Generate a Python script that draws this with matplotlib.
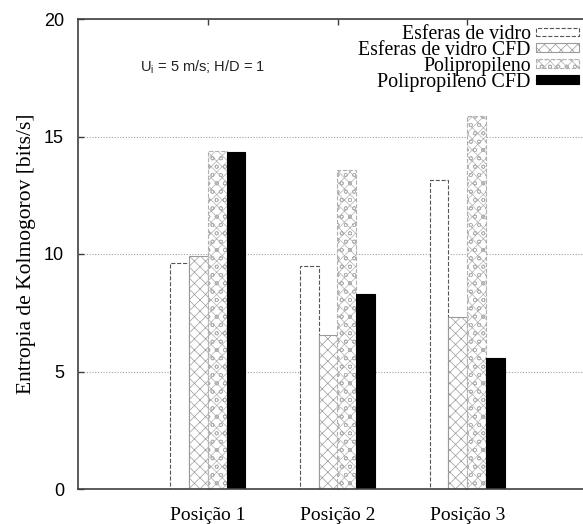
import matplotlib
matplotlib.use("Agg")
import matplotlib.pyplot as plt
import numpy as np

plt.rcParams["hatch.linewidth"] = 0.5

positions = ["Posição 1", "Posição 2", "Posição 3"]
series_names = ["Esferas de vidro", "Esferas de vidro CFD", "Polipropileno", "Polipropileno CFD"]
esferas = [9.62, 9.50, 13.15]
esferas_cfd = [9.91, 6.54, 7.31]
polipropileno = [14.40, 13.56, 15.87]
polipropileno_cfd = [14.34, 8.28, 5.59]
y_ticks = [0, 5, 10, 15, 20]

SERIF = "Liberation Serif"
SANS = "Liberation Sans"
AXIS = "#404040"

styles = [
    dict(facecolor="white", edgecolor="#555555", linestyle="--", linewidth=0.8),
    dict(facecolor="white", edgecolor="#9a9a9a", hatch="xxx", linewidth=0.8),
    dict(facecolor="white", edgecolor="#b0b0b0", hatch="xxxoo", linestyle="--", linewidth=0.8),
    dict(facecolor="black", edgecolor="black", linewidth=0.8),
]

fig = plt.figure(figsize=(5.83, 5.24), dpi=100)
ax = fig.add_axes([78 / 583, 35 / 524, 519 / 583, 470 / 524])

x = np.arange(1, len(positions) + 1)
w = 0.145
handles = []
for i, (vals, st) in enumerate(zip([esferas, esferas_cfd, polipropileno, polipropileno_cfd], styles)):
    b = ax.bar(x + (i - 1.5) * w, vals, w, label=series_names[i], zorder=2, **st)
    handles.append(b)

ax.set_xlim(0, 4)
ax.set_ylim(0, 20)
ax.set_yticks(y_ticks)
ax.set_xticks(x, positions)
ax.yaxis.grid(True, linestyle=(0, (1, 1.5)), color="#a0a0a0", linewidth=0.8, zorder=0)
ax.set_axisbelow(True)

for s in ["left", "bottom", "top"]:
    ax.spines[s].set_color(AXIS)
    ax.spines[s].set_linewidth(1.2)
ax.spines["right"].set_visible(False)
ax.tick_params(axis="both", direction="in", length=4, color=AXIS, width=1.0)
ax.tick_params(axis="x", top=True, pad=13)
ax.tick_params(axis="y", pad=10)
for t in ax.get_yticklabels():
    t.set_fontfamily(SANS)
    t.set_fontsize(13)
for t in ax.get_xticklabels():
    t.set_fontfamily(SERIF)
    t.set_fontsize(14)

ax.set_ylabel("Entropia de Kolmogorov [bits/s]", fontfamily=SERIF, fontsize=15.5, labelpad=6)

fig.text(140 / 583, 1 - 67 / 524, r"U$_\mathregular{i}$ = 5 m/s; H/D = 1",
         fontfamily=SANS, fontsize=10.5, color="#222222", va="center", ha="left")

leg = fig.legend(handles=handles, labels=series_names, loc="upper right",
                 bbox_to_anchor=(579 / 583, 1 - 25 / 524), frameon=False,
                 markerfirst=False, prop={"family": SERIF, "size": 14.2},
                 handlelength=2.2, handleheight=0.3, handletextpad=0.25,
                 labelspacing=-0.16, borderpad=0, borderaxespad=0)
leg.get_texts()[-1].set_fontsize(14.5)

fig.savefig("out.png", dpi=100)
